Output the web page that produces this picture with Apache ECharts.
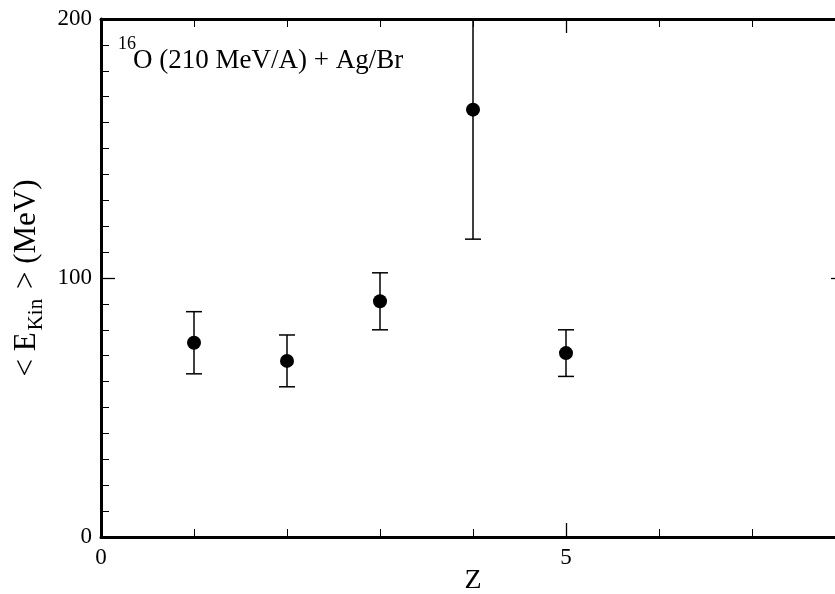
<!DOCTYPE html>
<html>
<head>
<meta charset="utf-8">
<script src="https://cdn.jsdelivr.net/npm/echarts@6/dist/echarts.min.js"></script>
<style>
html,body{margin:0;padding:0;overflow:hidden;background:#fff;}
#c{width:850px;height:594px;}
</style>
</head>
<body>
<div id="c"></div>
<script>
// Data
const zValues = [1, 2, 3, 4, 5];
const meanEkin = [75, 68, 91, 165, 71];
const errLow = [63, 58, 80, 115, 62];
const errHigh = [87, 78, 102, 215, 80];
const xTicks = [0, 5];
const yTicks = [0, 100, 200];
const titleSup = '16';
const titleMain = 'O (210 MeV/A) + Ag/Br';

const FONT = 'Liberation Serif';
const chart = echarts.init(document.getElementById('c'));

const points = zValues.map((z, i) => [z, meanEkin[i]]);
const bars = zValues.map((z, i) => [z, errLow[i], errHigh[i]]);

const axisCommon = {
  axisLine: { show: true, onZero: false, lineStyle: { color: '#000', width: 3 } },
  axisTick: { show: true, inside: true, length: 14, lineStyle: { color: '#000', width: 1.3 } },
  minorTick: { show: true, length: 8, lineStyle: { color: '#000', width: 1 } },
  splitLine: { show: false },
};

chart.setOption({
  animation: false,
  backgroundColor: '#fff',
  grid: { left: 101, right: 5, top: 19, bottom: 57, containLabel: false, outerBoundsMode: 'none' },
  title: [
    {
      left: 113, top: 24, text: titleSup,
      textStyle: { fontFamily: FONT, fontWeight: 'normal', fontSize: 18, color: '#000', lineHeight: 30 }
    },
    {
      left: 128, top: 41, text: titleMain,
      textStyle: { fontFamily: FONT, fontWeight: 'normal', fontSize: 27, color: '#000', lineHeight: 30 }
    }
  ],
  xAxis: [
    Object.assign({}, axisCommon, {
      type: 'value', min: 0, max: 8, interval: 5, position: 'bottom',
      minorTick: Object.assign({}, axisCommon.minorTick, { splitNumber: 5 }),
      axisLabel: { color: '#000', fontFamily: FONT, fontSize: 23, margin: 9,
        formatter: v => xTicks.includes(v) ? String(v) : '' },
      name: 'Z', nameLocation: 'middle', nameGap: 30, nameMoveOverlap: false,
      nameTextStyle: { color: '#000', fontFamily: FONT, fontSize: 28 }
    }),
    Object.assign({}, axisCommon, {
      type: 'value', min: 0, max: 8, interval: 5, position: 'top',
      minorTick: Object.assign({}, axisCommon.minorTick, { splitNumber: 5 }),
      axisLabel: { show: false }
    })
  ],
  yAxis: [
    Object.assign({}, axisCommon, {
      type: 'value', min: 0, max: 200, interval: 100, position: 'left',
      minorTick: Object.assign({}, axisCommon.minorTick, { splitNumber: 10 }),
      axisLabel: { color: '#000', fontFamily: FONT, fontSize: 23, margin: 9,
        formatter: v => yTicks.includes(v) ? String(v) : '' },
      name: '{a|< E}{s|Kin}{a| > (MeV)}', nameLocation: 'middle', nameGap: 54, nameRotate: 90,
      nameMoveOverlap: false,
      nameTextStyle: {
        color: '#000', fontFamily: FONT,
        rich: {
          a: { fontFamily: FONT, fontSize: 31, color: '#000', lineHeight: 40, verticalAlign: 'middle' },
          s: { fontFamily: FONT, fontSize: 21, color: '#000', lineHeight: 40, verticalAlign: 'bottom', padding: [0, 2, 0, 2] }
        }
      }
    }),
    Object.assign({}, axisCommon, {
      type: 'value', min: 0, max: 200, interval: 100, position: 'right',
      minorTick: Object.assign({}, axisCommon.minorTick, { splitNumber: 10 }),
      axisLabel: { show: false }
    })
  ],
  series: [
    {
      type: 'custom',
      clip: true,
      data: bars,
      renderItem: function (params, api) {
        const x = api.value(0);
        const lo = api.coord([x, api.value(1)]);
        const hi = api.coord([x, api.value(2)]);
        const cap = 8;
        const style = { stroke: '#000', lineWidth: 1.5 };
        return {
          type: 'group',
          children: [
            { type: 'line', shape: { x1: lo[0], y1: lo[1], x2: hi[0], y2: hi[1] }, style },
            { type: 'line', shape: { x1: lo[0] - cap, y1: lo[1], x2: lo[0] + cap, y2: lo[1] }, style },
            { type: 'line', shape: { x1: hi[0] - cap, y1: hi[1], x2: hi[0] + cap, y2: hi[1] }, style }
          ]
        };
      },
      z: 2
    },
    {
      type: 'scatter',
      data: points,
      symbol: 'circle',
      symbolSize: 14,
      itemStyle: { color: '#000', opacity: 1 },
      z: 3
    }
  ]
});
</script>
</body>
</html>
